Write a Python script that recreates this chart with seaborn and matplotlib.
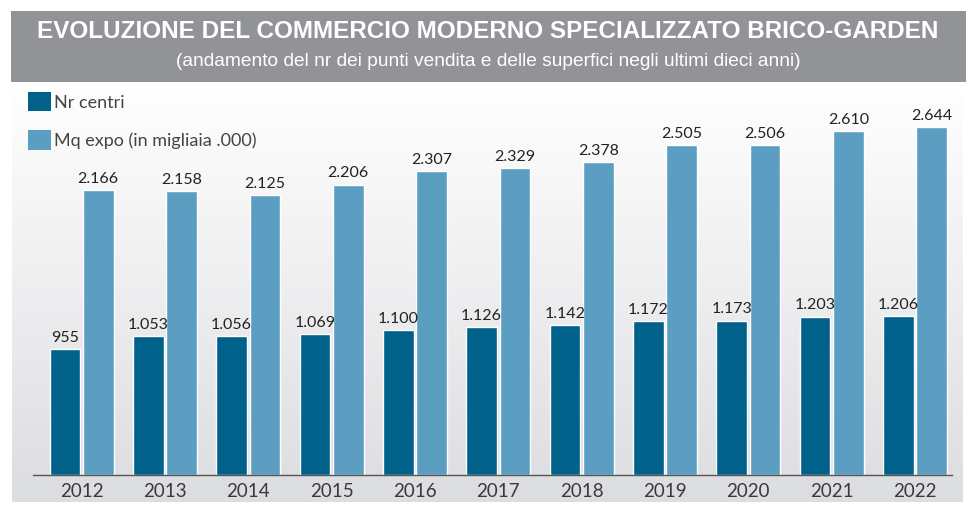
import numpy as np
import pandas as pd
import matplotlib
matplotlib.use("Agg")
import matplotlib.pyplot as plt
from matplotlib.patches import Rectangle, Patch
import seaborn as sns

years = ["2012", "2013", "2014", "2015", "2016", "2017", "2018", "2019", "2020", "2021", "2022"]
nr_centri = [955, 1053, 1056, 1069, 1100, 1126, 1142, 1172, 1173, 1203, 1206]
mq_expo = [2166, 2158, 2125, 2206, 2307, 2329, 2378, 2505, 2506, 2610, 2644]
series_names = ["Nr centri", "Mq expo (in migliaia .000)"]
colors = ["#00618a", "#5b9ec2"]
title = "EVOLUZIONE DEL COMMERCIO MODERNO SPECIALIZZATO BRICO-GARDEN"
subtitle = "(andamento del nr dei punti vendita e delle superfici negli ultimi dieci anni)"

df = pd.DataFrame({
    "anno": years * 2,
    "valore": nr_centri + mq_expo,
    "serie": [series_names[0]] * len(years) + [series_names[1]] * len(years),
})

sns.set_theme(style="white")
plt.rcParams["font.family"] = ["Lato", "DejaVu Sans"]

W, H = 976, 516
fig = plt.figure(figsize=(W / 100, H / 100), dpi=100)
fig.patch.set_facecolor("white")

def px_rect(x0, y0_top, x1, y1_top):
    return [x0 / W, 1 - y1_top / H, (x1 - x0) / W, (y1_top - y0_top) / H]

# gradient background panel
bg = fig.add_axes(px_rect(12, 82, 963, 502))
grad = np.linspace(0, 1, 256).reshape(-1, 1)
bg.imshow(grad, aspect="auto", cmap=matplotlib.colors.LinearSegmentedColormap.from_list(
    "g", ["#ffffff", "#dcdde0"]), extent=[0, 1, 0, 1], origin="upper")
bg.set_axis_off()

# title band
fig.patches.append(Rectangle((11 / W, 1 - 82 / H), (966 - 11) / W, (82 - 11) / H,
                             transform=fig.transFigure, facecolor="#929396",
                             edgecolor="none", zorder=0))
fig.text(487.5 / W, 1 - 32 / H, title, ha="center", va="center", color="white",
         fontsize=17.5, fontweight="bold", family=["Liberation Sans", "DejaVu Sans"])
fig.text(488 / W, 1 - 61 / H, subtitle, ha="center", va="center", color="white",
         fontsize=13.8, family=["Liberation Sans", "DejaVu Sans"])

ax = fig.add_axes(px_rect(33, 90, 952, 475))
ax.patch.set_alpha(0)
sns.barplot(data=df, x="anno", y="valore", hue="serie", hue_order=series_names,
            palette=colors, width=0.8, gap=0.08, saturation=1, ax=ax, legend=False)

ax.set_ylim(0, 2925)
ax.set_xlim(-0.582, 10.444)
for container in ax.containers:
    labels = [f"{int(round(b.get_height())):,}".replace(",", ".") for b in container]
    ax.bar_label(container, labels=labels, padding=3, fontsize=11.5, color="#222222")

ax.set_xlabel("")
ax.set_ylabel("")
ax.set_yticks([])
for s in ["top", "right", "left"]:
    ax.spines[s].set_visible(False)
ax.spines["bottom"].set_color("#555555")
ax.spines["bottom"].set_linewidth(1.0)
ax.tick_params(axis="x", length=0, pad=6, labelsize=13.5, labelcolor="#3a3a3a")

handles = [Patch(facecolor=c, edgecolor="none") for c in colors]
fig.legend(handles, series_names, loc="upper left",
           bbox_to_anchor=(28 / W, 1 - 92 / H), frameon=False, borderpad=0,
           borderaxespad=0, handlelength=1.28, handleheight=1.28, handletextpad=0.15,
           labelspacing=1.05, labelcolor="#444444",
           prop={"family": ["Lato", "DejaVu Sans"], "size": 13})

fig.savefig("out.png", dpi=100)
